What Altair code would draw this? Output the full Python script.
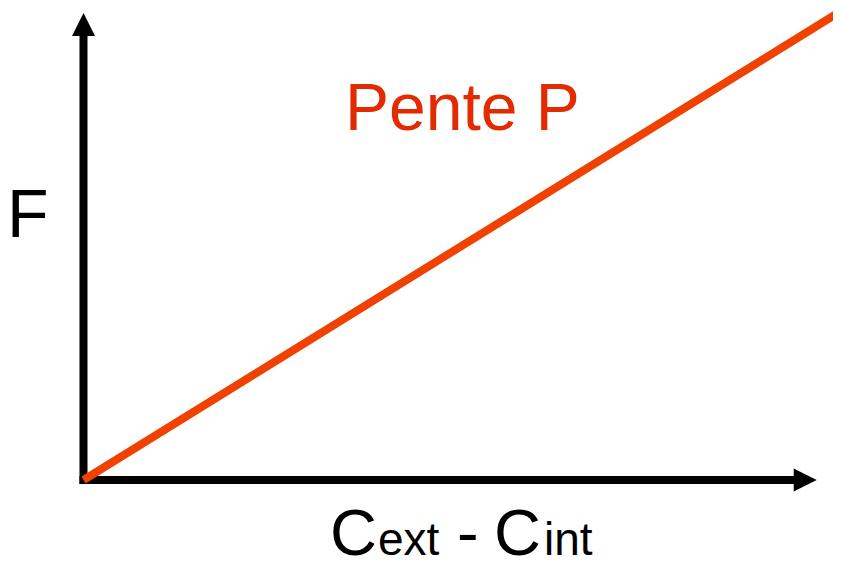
import altair as alt
import pandas as pd

# ---- data (in chart units) ----
slope_x = [0.0, 10.33]
slope_F = [0.0, 10.04]

axis_x_start = [0.0, 0.0]
axis_x_end = [9.7, 0.0]
axis_y_start = [0.0, 0.0]
axis_y_end = [0.0, 9.55]

arrow_x = [10.0, 0.0]
arrow_y = [0.0, 10.0]
arrow_shape = ["M0,0L-2,-1L-2,1Z", "M0,0L1,2L-1,2Z"]

label_text = ["Pente P", "F", "C", "ext", "-", "C", "int"]
label_x = [3.567, -1.043, 3.362, 4.017, 5.094, 5.599, 6.281]
label_y = [7.495, 5.203, -1.606, -1.606, -1.606, -1.606, -1.606]
label_size = [66, 68, 65, 46, 65, 65, 46]
label_color = ["#E22B00", "#000000", "#000000", "#000000", "#000000", "#000000", "#000000"]

xs = alt.Scale(domain=[0, 10], range=[75.5, 808.7], nice=False, zero=False)
ys = alt.Scale(domain=[0, 10], range=[472, 5], nice=False, zero=False)

axes_df = pd.DataFrame({"x": axis_x_start, "x2": axis_x_end,
                        "y": axis_y_start, "y2": axis_y_end})
shafts = alt.Chart(axes_df).mark_rule(color="black", strokeWidth=8, strokeCap="square").encode(
    x=alt.X("x:Q", scale=xs, axis=None),
    x2="x2:Q",
    y=alt.Y("y:Q", scale=ys, axis=None),
    y2="y2:Q",
)

heads = []
for ax_, ay_, sh in zip(arrow_x, arrow_y, arrow_shape):
    heads.append(
        alt.Chart(pd.DataFrame({"x": [ax_], "y": [ay_]})).mark_point(
            shape=sh, size=529, filled=True, color="black", opacity=1, strokeWidth=0
        ).encode(
            x=alt.X("x:Q", scale=xs, axis=None),
            y=alt.Y("y:Q", scale=ys, axis=None),
        )
    )

slope_df = pd.DataFrame({"x": slope_x, "F": slope_F})
slope = alt.Chart(slope_df).mark_line(color="#F04100", strokeWidth=8, strokeCap="butt").encode(
    x=alt.X("x:Q", scale=xs, axis=None),
    y=alt.Y("F:Q", scale=ys, axis=None),
)

lab_df = pd.DataFrame({"t": label_text, "x": label_x, "y": label_y,
                       "s": label_size, "c": label_color})
labels = alt.Chart(lab_df).mark_text(
    align="left", baseline="alphabetic", font="Liberation Sans"
).encode(
    x=alt.X("x:Q", scale=xs, axis=None),
    y=alt.Y("y:Q", scale=ys, axis=None),
    text="t:N",
    size=alt.Size("s:Q", scale=None, legend=None),
    color=alt.Color("c:N", scale=None, legend=None),
)

chart = alt.layer(shafts, *heads, slope, labels).properties(
    width=825, height=549,
    autosize=alt.AutoSizeParams(type="none"),
    padding=0,
).configure_view(stroke=None)

chart.save("out.html", embed_options={"renderer": "svg", "actions": False})
